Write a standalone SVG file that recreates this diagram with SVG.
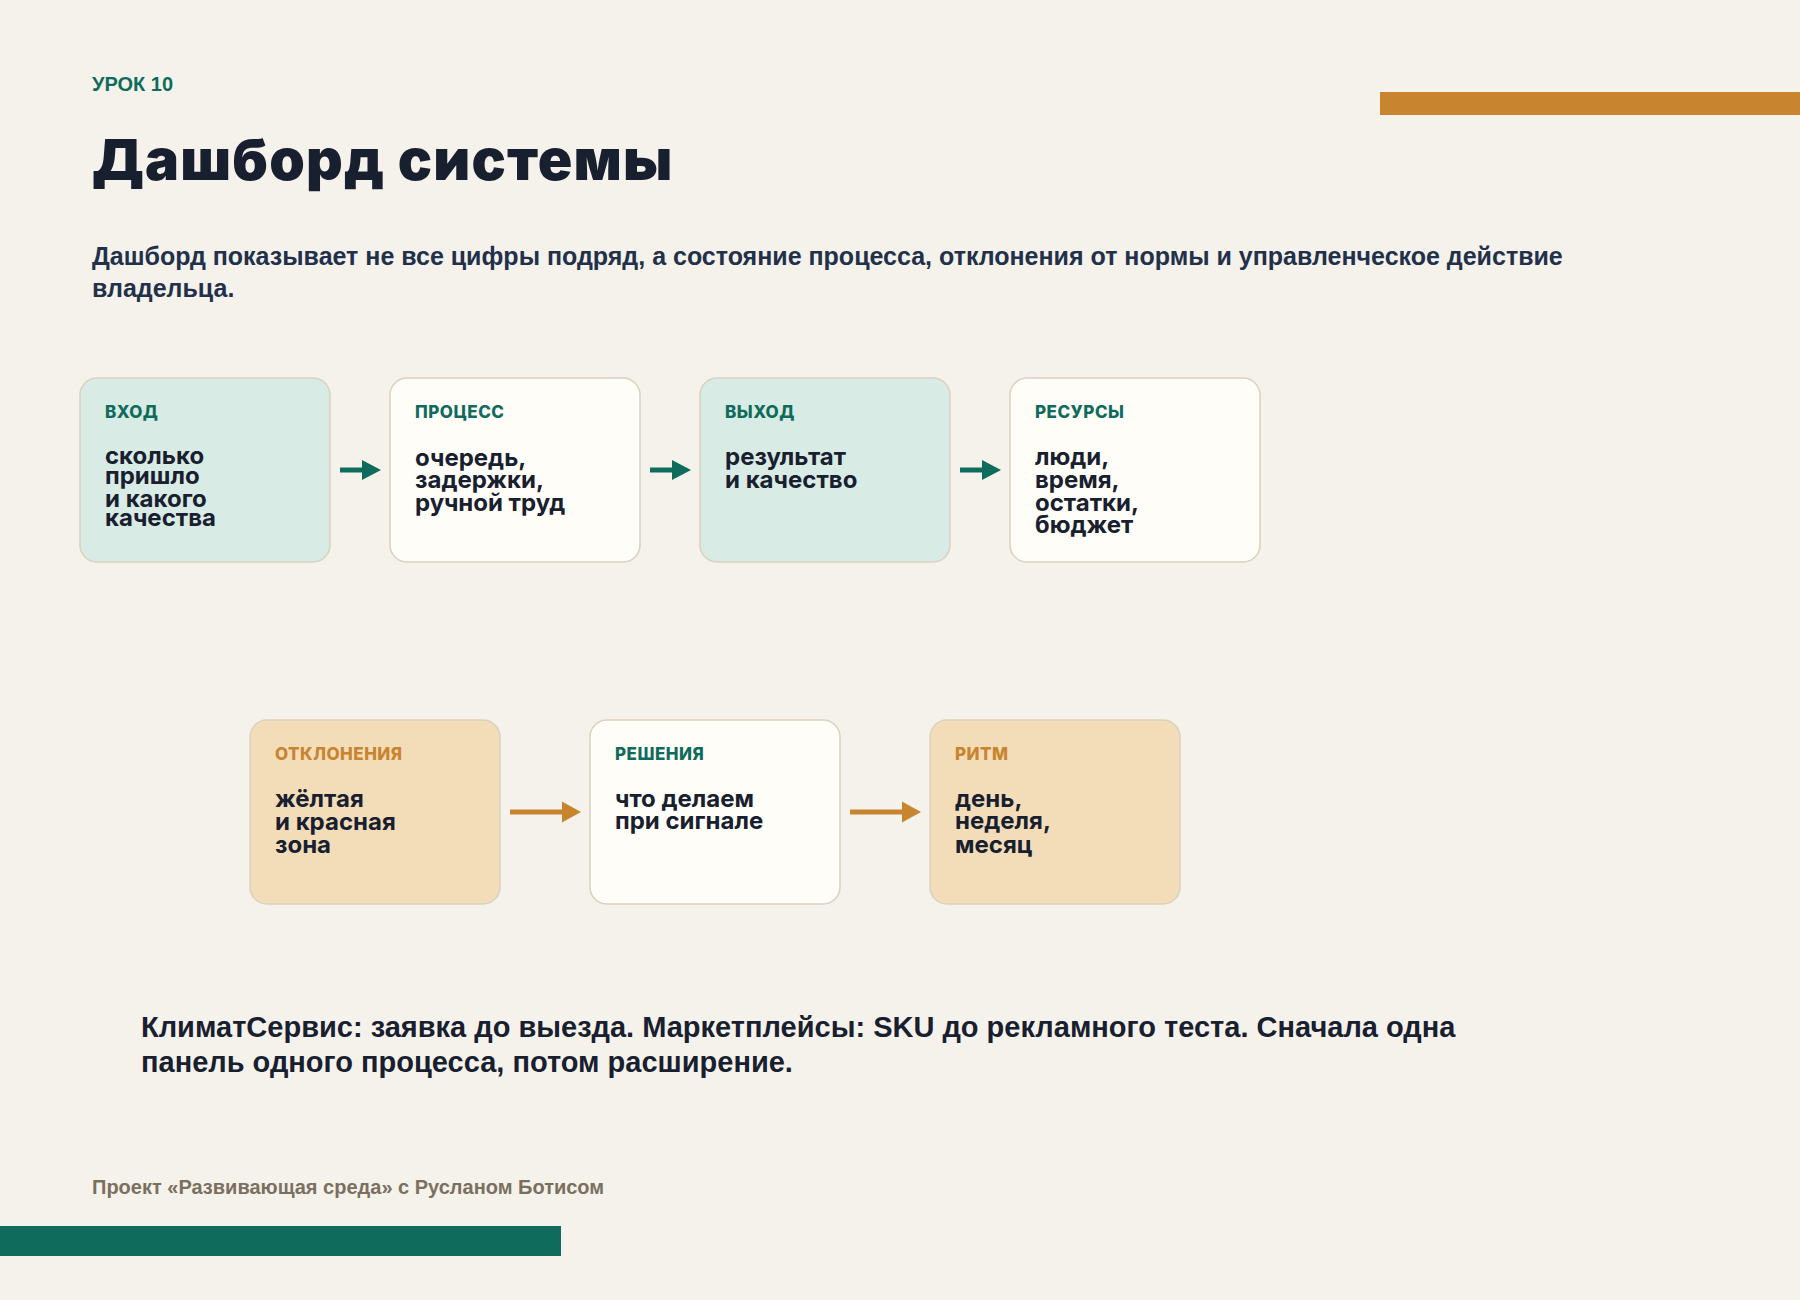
<svg xmlns="http://www.w3.org/2000/svg" width="1800" height="1300" viewBox="0 0 1800 1300">
  <defs>
    <style>
      .bg { fill: #f5f2eb; }
      .node { stroke: #dbd1c1; stroke-width: 1.5; }
      .teal { fill: #d8ebe4; }
      .white { fill: #fffdf7; }
      .sand { fill: #f3ddb9; }
      .lbl { font-family: Inter, "Noto Sans", sans-serif; font-weight: 800; font-size: 17px; letter-spacing: 0.5px; }
      .lbl-t { fill: #0f6b5c; }
      .lbl-o { fill: #c8842f; }
      .body { font-family: Inter, "Noto Sans", sans-serif; font-weight: 700; font-size: 24px; fill: #18202f; }
      .sans { font-family: "Liberation Sans", Arial, sans-serif; font-weight: 700; }
      .line-t { stroke: #0f6b5c; stroke-width: 5; fill: none; }
      .line-o { stroke: #c8842f; stroke-width: 5; fill: none; }
      .head-t { fill: #0f6b5c; }
      .head-o { fill: #c8842f; }
    </style>
  </defs>

  <rect class="bg" x="0" y="0" width="1800" height="1300"/>

  <g id="header">
    <text class="sans" x="92" y="91" font-size="20" fill="#0f6b5c">УРОК 10</text>
    <rect x="1380" y="92" width="420" height="23" fill="#c8842f"/>
    <text x="92" y="180" font-family="Inter, 'Liberation Sans', sans-serif" font-weight="900" font-size="57" letter-spacing="1.2" fill="#18202f">Дашборд системы</text>
    <text class="sans" font-size="25" fill="#22304a">
      <tspan x="92" y="265">Дашборд показывает не все цифры подряд, а состояние процесса, отклонения от нормы и управленческое действие</tspan>
      <tspan x="92" y="297">владельца.</tspan>
    </text>
  </g>

  <g id="node-vhod">
    <rect class="node teal" x="80" y="378" width="250" height="184" rx="17"/>
    <text class="lbl lbl-t" x="105" y="418">ВХОД</text>
    <text class="body">
      <tspan x="105" y="464">сколько</tspan>
      <tspan x="105" y="484">пришло</tspan>
      <tspan x="105" y="507">и какого</tspan>
      <tspan x="105" y="526">качества</tspan>
    </text>
  </g>

  <g id="node-process">
    <rect class="node white" x="390" y="378" width="250" height="184" rx="17"/>
    <text class="lbl lbl-t" x="415" y="418">ПРОЦЕСС</text>
    <text class="body">
      <tspan x="415" y="466">очередь,</tspan>
      <tspan x="415" y="488">задержки,</tspan>
      <tspan x="415" y="511">ручной труд</tspan>
    </text>
  </g>

  <g id="node-vyhod">
    <rect class="node teal" x="700" y="378" width="250" height="184" rx="17"/>
    <text class="lbl lbl-t" x="725" y="418">ВЫХОД</text>
    <text class="body">
      <tspan x="725" y="465">результат</tspan>
      <tspan x="725" y="488">и качество</tspan>
    </text>
  </g>

  <g id="node-resursy">
    <rect class="node white" x="1010" y="378" width="250" height="184" rx="17"/>
    <text class="lbl lbl-t" x="1035" y="418">РЕСУРСЫ</text>
    <text class="body">
      <tspan x="1035" y="465">люди,</tspan>
      <tspan x="1035" y="488">время,</tspan>
      <tspan x="1035" y="511">остатки,</tspan>
      <tspan x="1035" y="533">бюджет</tspan>
    </text>
  </g>

  <g id="node-otkloneniya">
    <rect class="node sand" x="250" y="720" width="250" height="184" rx="17"/>
    <text class="lbl lbl-o" x="275" y="760">ОТКЛОНЕНИЯ</text>
    <text class="body">
      <tspan x="275" y="807">жёлтая</tspan>
      <tspan x="275" y="830">и красная</tspan>
      <tspan x="275" y="853">зона</tspan>
    </text>
  </g>

  <g id="node-resheniya">
    <rect class="node white" x="590" y="720" width="250" height="184" rx="17"/>
    <text class="lbl lbl-t" x="615" y="760">РЕШЕНИЯ</text>
    <text class="body">
      <tspan x="615" y="807">что делаем</tspan>
      <tspan x="615" y="829">при сигнале</tspan>
    </text>
  </g>

  <g id="node-ritm">
    <rect class="node sand" x="930" y="720" width="250" height="184" rx="17"/>
    <text class="lbl lbl-o" x="955" y="760">РИТМ</text>
    <text class="body">
      <tspan x="955" y="807">день,</tspan>
      <tspan x="955" y="829">неделя,</tspan>
      <tspan x="955" y="853">месяц</tspan>
    </text>
  </g>

  <g id="connectors">
    <line class="line-t" x1="340" y1="470" x2="363" y2="470"/>
    <polygon class="head-t" points="362,460 381,470 362,480"/>
    <line class="line-t" x1="650" y1="470" x2="673" y2="470"/>
    <polygon class="head-t" points="672,460 691,470 672,480"/>
    <line class="line-t" x1="960" y1="470" x2="983" y2="470"/>
    <polygon class="head-t" points="982,460 1001,470 982,480"/>
    <line class="line-o" x1="510" y1="812" x2="563" y2="812"/>
    <polygon class="head-o" points="562,801.5 581,812 562,822.5"/>
    <line class="line-o" x1="850" y1="812" x2="903" y2="812"/>
    <polygon class="head-o" points="902,801.5 921,812 902,822.5"/>
  </g>

  <g id="footer">
    <text class="sans" font-size="29" fill="#18202f">
      <tspan x="141" y="1037">КлиматСервис: заявка до выезда. Маркетплейсы: SKU до рекламного теста. Сначала одна</tspan>
      <tspan x="141" y="1072">панель одного процесса, потом расширение.</tspan>
    </text>
    <text class="sans" x="92" y="1194" font-size="20" fill="#7a7060">Проект «Развивающая среда» с Русланом Ботисом</text>
    <rect x="0" y="1226" width="561" height="30" fill="#0f6b5c"/>
  </g>
</svg>
